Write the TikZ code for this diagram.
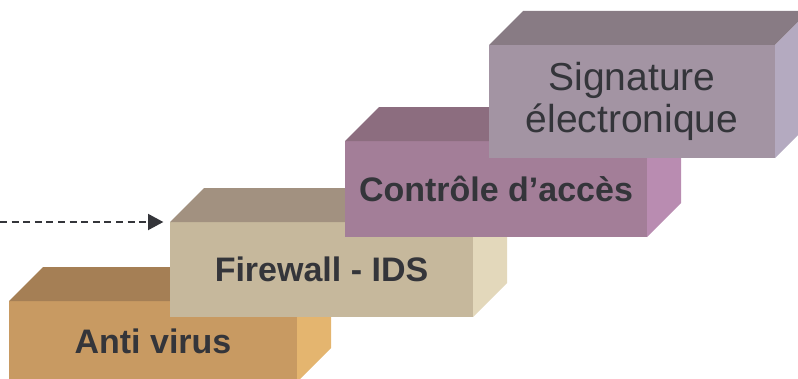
\documentclass[tikz,border=0pt]{standalone}
\usepackage{fontspec}
\setmainfont{Liberation Sans}
\usetikzlibrary{arrows.meta}
\definecolor{avF}{HTML}{C89A62}
\definecolor{avT}{HTML}{A57F55}
\definecolor{avS}{HTML}{E4B56F}
\definecolor{fwF}{HTML}{C6B89C}
\definecolor{fwT}{HTML}{A29180}
\definecolor{fwS}{HTML}{E3D8BB}
\definecolor{caF}{HTML}{A37E98}
\definecolor{caT}{HTML}{8C6D7F}
\definecolor{caS}{HTML}{B98CB1}
\definecolor{sgF}{HTML}{A394A3}
\definecolor{sgT}{HTML}{887B84}
\definecolor{sgS}{HTML}{B4AAC0}
\definecolor{txt}{HTML}{34353A}
\begin{document}
\begin{tikzpicture}[x=0.75pt,y=-0.75pt,
  front/.style={inner sep=0pt, outer sep=0pt, text=txt, align=center},
  boldlbl/.style={font=\bfseries\fontsize{25.5}{30}\selectfont},
  reglbl/.style={font=\fontsize{29.25}{32}\selectfont},
  flow/.style={draw=txt, line width=1.5pt, dash pattern=on 5.2pt off 3.5pt, -{Triangle[length=11.5pt,width=12pt]}, shorten >=5pt}]
\useasboundingbox (0,0) rectangle (798,378);
\clip (0,0) rectangle (798,378);
% Box 1
\node[front, fill=avF, minimum width=216pt, minimum height=60.75pt, boldlbl] (av) at (153,341.5) {Anti virus};
\fill[avT] (av.north west) -- ++(34,-34) -- ([shift={(34,-34)}]av.north east) -- (av.north east) -- cycle;
\fill[avS] (av.north east) -- ([shift={(34,-34)}]av.north east) -- ([shift={(34,-34)}]av.south east) -- (av.south east) -- cycle;
% Box 2
\node[front, fill=fwF, minimum width=227.25pt, minimum height=71.25pt, boldlbl] (fw) at (321.5,269.5) {Firewall - IDS};
\fill[fwT] (fw.north west) -- ++(34,-34) -- ([shift={(34,-34)}]fw.north east) -- (fw.north east) -- cycle;
\fill[fwS] (fw.north east) -- ([shift={(34,-34)}]fw.north east) -- ([shift={(34,-34)}]fw.south east) -- (fw.south east) -- cycle;
% Box 3
\node[front, fill=caF, minimum width=226.5pt, minimum height=72pt, boldlbl] (ca) at (496,189) {Contrôle d’accès};
\fill[caT] (ca.north west) -- ++(34,-34) -- ([shift={(34,-34)}]ca.north east) -- (ca.north east) -- cycle;
\fill[caS] (ca.north east) -- ([shift={(34,-34)}]ca.north east) -- ([shift={(34,-34)}]ca.south east) -- (ca.south east) -- cycle;
% Box 4
\node[front, fill=sgF, minimum width=214.5pt, minimum height=84.75pt, reglbl] (sg) at (632,101.5) {Signature\\électronique};
\fill[sgT] (sg.north west) -- ++(34,-34) -- ([shift={(34,-34)}]sg.north east) -- (sg.north east) -- cycle;
\fill[sgS] (sg.north east) -- ([shift={(34,-34)}]sg.north east) -- ([shift={(34,-34)}]sg.south east) -- (sg.south east) -- cycle;
% Arrow
\coordinate (start) at (0,222);
\draw[flow] (start) -- (fw.north west);
\end{tikzpicture}
\end{document}
